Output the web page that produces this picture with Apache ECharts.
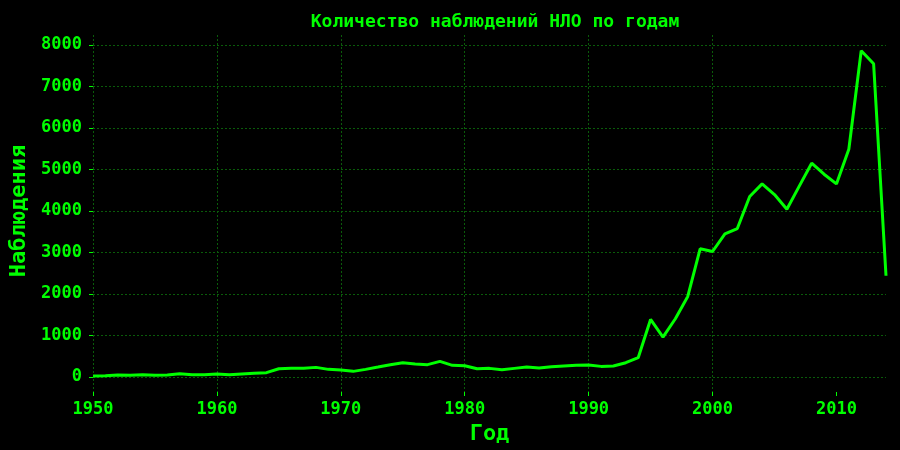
<!DOCTYPE html>
<html>
<head>
<meta charset="utf-8">
<title>НЛО по годам</title>
<script src="https://cdn.jsdelivr.net/npm/echarts@6/dist/echarts.min.js"></script>
<style>
  html, body { margin: 0; padding: 0; background: #000; }
  #chart { width: 900px; height: 450px; }
</style>
</head>
<body>
<div id="chart"></div>
<script>
// values
const years = [
  1950, 1951, 1952, 1953, 1954, 1955, 1956, 1957, 1958, 1959,
  1960, 1961, 1962, 1963, 1964, 1965, 1966, 1967, 1968, 1969,
  1970, 1971, 1972, 1973, 1974, 1975, 1976, 1977, 1978, 1979,
  1980, 1981, 1982, 1983, 1984, 1985, 1986, 1987, 1988, 1989,
  1990, 1991, 1992, 1993, 1994, 1995, 1996, 1997, 1998, 1999,
  2000, 2001, 2002, 2003, 2004, 2005, 2006, 2007, 2008, 2009,
  2010, 2011, 2012, 2013, 2014
];
const sightings = [
  24, 32, 48, 40, 56, 40, 48, 80, 56, 56,
  72, 56, 72, 88, 104, 200, 208, 208, 232, 184,
  168, 136, 184, 240, 297, 345, 313, 297, 377, 281,
  273, 200, 208, 176, 208, 240, 216, 248, 265, 281,
  289, 256, 266, 344, 465, 1387, 963, 1403, 1941, 3089,
  3024, 3450, 3578, 4348, 4653, 4396, 4044, 4600, 5151, 4886,
  4653, 5488, 7862, 7549, 2439
];
const yearTicks = [1950, 1960, 1970, 1980, 1990, 2000, 2010];

const TITLE = "Количество наблюдений НЛО по годам";
const X_NAME = "Год";
const Y_NAME = "Наблюдения";

const GREEN = "#00ff00";
const GRID_GREEN = "#0a5c0a";
const FONT = "DejaVu Sans Mono";

const chart = echarts.init(document.getElementById("chart"), null, { renderer: "canvas" });

const points = years.map((y, i) => [y, sightings[i]]);

const plain = v => String(v);

chart.setOption({
  backgroundColor: "#000",
  animation: false,
  title: {
    text: TITLE,
    left: 490,
    top: 8,
    textAlign: "center",
    textStyle: { color: GREEN, fontFamily: FONT, fontWeight: "bold", fontSize: 18 }
  },
  grid: [
    // data area: 0..8000
    { left: 93, right: 14, top: 45, bottom: 73 },
    // full plot frame for the vertical grid lines and the year axis
    { left: 93, right: 14, top: 35, bottom: 58 }
  ],
  xAxis: [
    { gridIndex: 0, type: "value", min: 1950, max: 2014, show: false },
    {
      gridIndex: 1, type: "value", min: 1950, max: 2014, interval: 10,
      axisLine: { show: false },
      axisTick: { show: true, length: 4, lineStyle: { color: GREEN }, customValues: yearTicks },
      axisLabel: {
        color: GREEN, fontFamily: FONT, fontWeight: "bold", fontSize: 17, margin: 9,
        customValues: yearTicks, formatter: plain
      },
      splitLine: {
        show: true, showMaxLine: false,
        lineStyle: { color: GRID_GREEN, type: [2, 2], width: 1 }
      },
      name: X_NAME,
      nameLocation: "middle",
      nameGap: 25,
      nameTextStyle: { color: GREEN, fontFamily: FONT, fontWeight: "bold", fontSize: 22 }
    }
  ],
  yAxis: [
    {
      gridIndex: 0, type: "value", min: 0, max: 8000, interval: 1000,
      axisLine: { show: false },
      axisTick: { show: true, length: 4, lineStyle: { color: GREEN } },
      axisLabel: { color: GREEN, fontFamily: FONT, fontWeight: "bold", fontSize: 17, margin: 11, formatter: plain },
      splitLine: { show: true, lineStyle: { color: GRID_GREEN, type: [2, 2], width: 1 } },
      name: Y_NAME,
      nameLocation: "middle",
      nameGap: 62,
      nameTextStyle: { color: GREEN, fontFamily: FONT, fontWeight: "bold", fontSize: 22 }
    },
    { gridIndex: 1, type: "value", min: 0, max: 1, show: false }
  ],
  series: [
    {
      type: "line",
      xAxisIndex: 0,
      yAxisIndex: 0,
      data: points,
      showSymbol: false,
      symbol: "none",
      clip: false,
      lineStyle: { color: GREEN, width: 3 }
    }
  ]
});
</script>
</body>
</html>
